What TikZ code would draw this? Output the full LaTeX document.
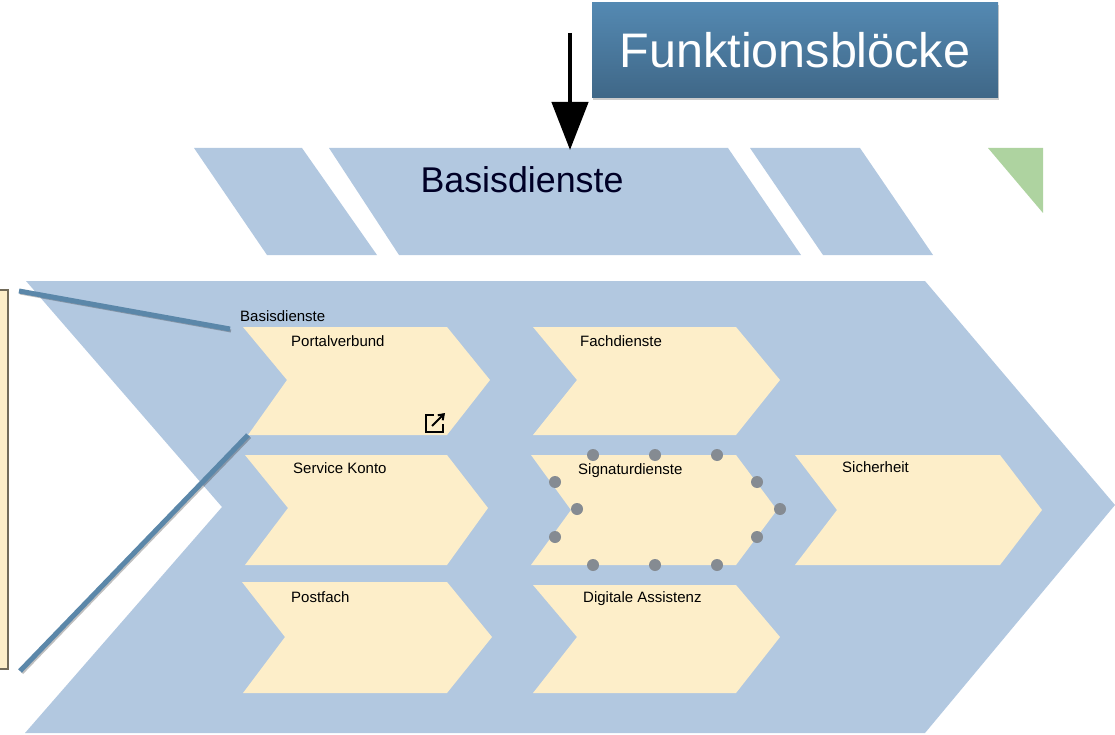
\documentclass[tikz,border=0pt]{standalone}
\usepackage{fontspec}
\setmainfont{Liberation Sans}
\usetikzlibrary{calc}
\usetikzlibrary{arrows.meta}
\usetikzlibrary{shadows}
\definecolor{bandblue}{HTML}{B2C8E0}
\definecolor{bandgreen}{HTML}{AED3A0}
\definecolor{chevyellow}{HTML}{FDEEC9}
\definecolor{calloutblue}{HTML}{5B87A9}
\definecolor{titletop}{HTML}{5489B2}
\definecolor{titlebottom}{HTML}{3F6787}
\definecolor{handlegray}{HTML}{858B92}
\tikzset{
	smalllabel/.style={anchor=base west, inner sep=0pt, font=\fontsize{15}{15}\selectfont},
	callout/.style={draw=calloutblue, line width=5pt},
	calloutshadow/.style={draw=black, opacity=0.25, line width=3pt},
	handle/.style={fill=handlegray},
}
\begin{document}
\begin{tikzpicture}[x=1pt, y=-1pt]
	\useasboundingbox (0,0) rectangle (1115,735);
	
	% top strip
	\fill[bandblue] (194,148)--(302,148)--(377,255)--(267,255)--cycle;
	\fill[bandblue] (329,148)--(728,148)--(801,255)--(399,255)--cycle;
	\fill[bandblue] (750,148)--(860,148)--(933,255)--(823,255)--cycle;
	\fill[bandgreen] (988,148)--(1043,148)--(1043,213)--cycle;
	\node[font=\fontsize{35.8}{36}\selectfont, text=black!85!blue] (basis) at (522,180) {Basisdienste};
	
	% title box and arrow
	\node[minimum width=406pt, minimum height=95pt, inner sep=0pt, top color=titletop, bottom color=titlebottom, text=white, font=\fontsize{48.5}{48}\selectfont, drop shadow={shadow xshift=1pt, shadow yshift=-2pt, opacity=0.4}] (title) at (795,50.5) {Funktionsbl\"ocke};
	\coordinate (arrowstart) at (570,33);
	\coordinate (arrowend) at (570,150);
	\draw[-{Triangle[length=48pt, width=36pt]}, line width=4.5pt] (arrowstart)--(arrowend);
	
	% big chevron
	\fill[bandblue] (26,281)--(925,281)--(1115,505)--(925,733)--(25,733)--(222,507)--cycle;
	
	% left box
	\fill[chevyellow, draw=black!55!chevyellow, line width=1.5pt] (-5,290)--(8,290)--(8,669)--(-5,669)--cycle;
	
	% chevrons, first column
	\fill[chevyellow] (243,327)--(447,327)--(490,380)--(447,435)--(248,435)--(287,380)--cycle;
	\fill[chevyellow] (245,455)--(447,455)--(488,508)--(447,565)--(245,565)--(288,508)--cycle;
	\fill[chevyellow] (242,582)--(447,582)--(492,637)--(447,693)--(243,693)--(285,637)--cycle;
	
	% chevrons, second column
	\fill[chevyellow] (533,327)--(736,327)--(780,380)--(736,435)--(533,435)--(577,380)--cycle;
	\fill[chevyellow] (531,455)--(736,455)--(777,510)--(736,565)--(531,565)--(571,510)--cycle;
	\fill[chevyellow] (533,585)--(736,585)--(780,637)--(736,693)--(533,693)--(577,637)--cycle;
	
	% last chevron
	\fill[chevyellow] (795,455)--(1000,455)--(1042,510)--(1000,565)--(795,565)--(837,510)--cycle;
	
	\node[smalllabel] (group) at (240,321) {Basisdienste};
	\node[smalllabel] (portal) at (291,346) {Portalverbund};
	\node[smalllabel] (service) at (293,473) {Service Konto};
	\node[smalllabel] (post) at (291,602) {Postfach};
	\node[smalllabel] (fach) at (580,346) {Fachdienste};
	\node[smalllabel] (sign) at (578,474) {Signaturdienste};
	\node[smalllabel] (assist) at (583,602) {Digitale Assistenz};
	\node[smalllabel] (safe) at (842,472) {Sicherheit};
	
	% link icon
	\draw[line width=2pt] (434,415)--(426,415)--(426,432)--(443,432)--(443,424);
	\draw[-{Straight Barb[length=5pt, width=7pt]}, line width=2pt] (432,426)--(445,413);
	
	% handles
	\fill[handle] (593,455) circle (6pt);
	\fill[handle] (655,455) circle (6pt);
	\fill[handle] (717,455) circle (6pt);
	\fill[handle] (593,565) circle (6pt);
	\fill[handle] (655,565) circle (6pt);
	\fill[handle] (717,565) circle (6pt);
	\fill[handle] (555,482) circle (6pt);
	\fill[handle] (577,509) circle (6pt);
	\fill[handle] (555,537) circle (6pt);
	\fill[handle] (757,482) circle (6pt);
	\fill[handle] (780,509) circle (6pt);
	\fill[handle] (757,537) circle (6pt);
	
	% callout lines
	\coordinate (boxtop) at (19,291);
	\coordinate (boxbottom) at (20,671);
	\coordinate (chevtop) at (230,329);
	\coordinate (chevbottom) at (248,435);
	\draw[calloutshadow] ($(boxtop)+(1,2)$)--($(chevtop)+(1,2)$);
	\draw[callout] (boxtop)--(chevtop);
	\draw[calloutshadow] ($(boxbottom)+(2,2)$)--($(chevbottom)+(2,2)$);
	\draw[callout] (boxbottom)--(chevbottom);
\end{tikzpicture}
\end{document}
